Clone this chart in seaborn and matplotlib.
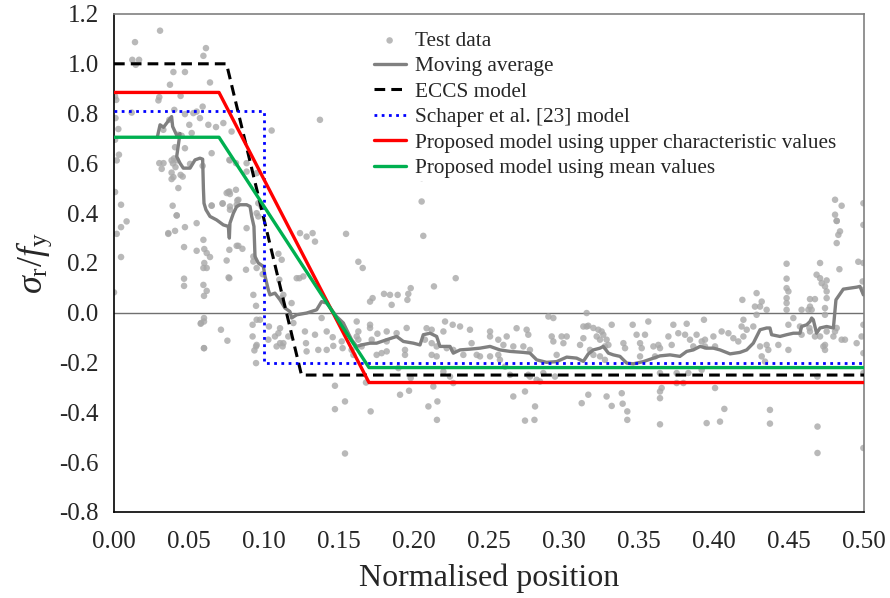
import matplotlib
matplotlib.use("Agg")
import matplotlib.pyplot as plt
import seaborn as sns
import pandas as pd
from matplotlib.ticker import FormatStrFormatter, MultipleLocator

# ---------------- data ----------------
TEST_X = [
    0.0307, 0.0140, 0.0122, 0.0167, 0.0145, 0.0613, 0.0596, 0.0396, 0.0473, 0.0640,
    0.0373, 0.0007, 0.0015, 0.0302, 0.0296, 0.0444, 0.0118, 0.0402, 0.0473, 0.0529,
    0.0551, 0.0591, 0.0010, 0.0502, 0.0573, 0.0369, 0.0629, 0.0680, 0.0729, 0.0029,
    0.0518, 0.0429, 0.0451, 0.0329, 0.0007, 0.0473, 0.0407, 0.0400, 0.0393, 0.0410,
    0.0651, 0.0773, 0.0033, 0.0302, 0.0330, 0.0507, 0.0591, 0.0018, 0.0384, 0.0418,
    0.0318, 0.0384, 0.0396, 0.0384, 0.0444, 0.0458, 0.0429, 0.0007, 0.0047, 0.0391,
    0.0418, 0.0418, 0.0084, 0.0047, 0.0018, 0.0362, 0.0407, 0.0473, 0.0551, 0.0467,
    0.0551, 0.0602, 0.0618, 0.0640, 0.0602, 0.0596, 0.0618, 0.0047, 0.0467, 0.0467,
    0.0596, 0.0618, 0.0600, 0.0000, 0.0751, 0.0769, 0.0764, 0.0762, 0.0773, 0.0813,
    0.0724, 0.0651, 0.0773, 0.0773, 0.0818, 0.0600, 0.0600, 0.0578, 0.0600, 0.0600,
    0.0713, 0.0756, 0.0829, 0.0818, 0.0884, 0.0951, 0.0984, 0.0962, 0.0962, 0.0829,
    0.0856, 0.0929, 0.0929, 0.0880, 0.0769, 0.0929, 0.0947, 0.0951, 0.0991, 0.1096,
    0.1118, 0.1102, 0.1129, 0.1118, 0.1218, 0.1184, 0.0951, 0.0973, 0.0924, 0.0924,
    0.0951, 0.0947, 0.0936, 0.1033, 0.1029, 0.1073, 0.1107, 0.1096, 0.1107, 0.1129,
    0.1084, 0.1124, 0.1162, 0.0947, 0.1051, 0.0784, 0.0769, 0.0813, 0.0769, 0.0884,
    0.0951, 0.0884, 0.0362, 0.0596, 0.0580, 0.0751, 0.0651, 0.0724, 0.0822, 0.1373,
    0.1240, 0.1284, 0.1324, 0.1340, 0.1547, 0.2051, 0.2062, 0.1629, 0.1658, 0.1236,
    0.1262, 0.2278, 0.2133, 0.1978, 0.1962, 0.1956, 0.1800, 0.1840, 0.1891, 0.1707,
    0.1724, 0.1851, 0.1196, 0.1273, 0.1340, 0.1384, 0.1418, 0.1458, 0.1280, 0.1284,
    0.1362, 0.1418, 0.1462, 0.1518, 0.1524, 0.1618, 0.1629, 0.1618, 0.1629, 0.1707,
    0.1707, 0.1718, 0.1756, 0.1818, 0.1818, 0.1884, 0.1951, 0.1751, 0.1784, 0.1818,
    0.1940, 0.1940, 0.1651, 0.1584, 0.1596, 0.1473, 0.1540, 0.1473, 0.1680, 0.1711,
    0.1907, 0.1967, 0.1978, 0.1896, 0.2084, 0.2118, 0.2118, 0.2073, 0.2151, 0.2196,
    0.2207, 0.2258, 0.2307, 0.2373, 0.2118, 0.2151, 0.2218, 0.2262, 0.2329, 0.2384,
    0.2418, 0.2440, 0.2196, 0.2240, 0.2262, 0.2129, 0.2096, 0.2156, 0.2153, 0.2507,
    0.2507, 0.2562, 0.2596, 0.2507, 0.2562, 0.2573, 0.2618, 0.2684, 0.2662, 0.2751,
    0.2762, 0.2729, 0.2773, 0.2607, 0.2640, 0.2662, 0.2740, 0.2762, 0.2773, 0.2807,
    0.2740, 0.2803, 0.2818, 0.2840, 0.2862, 0.2940, 0.2951, 0.3018, 0.2984, 0.2918,
    0.2929, 0.2996, 0.3107, 0.3129, 0.2896, 0.2929, 0.3118, 0.3162, 0.1540, 0.3151,
    0.3129, 0.3151, 0.3196, 0.3229, 0.3251, 0.3218, 0.3262, 0.3240, 0.3284, 0.3318,
    0.3273, 0.3296, 0.3173, 0.3196, 0.3240, 0.3273, 0.3162, 0.3284, 0.3318, 0.3385,
    0.3391, 0.3422, 0.3422, 0.3396, 0.3407, 0.3458, 0.3484, 0.3507, 0.3518, 0.3507,
    0.3540, 0.3562, 0.3596, 0.3629, 0.3640, 0.3607, 0.3640, 0.3651, 0.3640, 0.3640,
    0.3640, 0.3696, 0.3729, 0.3762, 0.3718, 0.3751, 0.3751, 0.3796, 0.3818, 0.3807,
    0.3840, 0.3862, 0.3884, 0.3918, 0.3940, 0.3940, 0.3996, 0.4007, 0.3933, 0.3829,
    0.3918, 0.4007, 0.4040, 0.4069, 0.4051, 0.4096, 0.4129, 0.4162, 0.4196, 0.4196,
    0.4184, 0.4218, 0.4262, 0.4284, 0.4189, 0.4284, 0.4307, 0.4273, 0.4318, 0.4351,
    0.4307, 0.4351, 0.4362, 0.4318, 0.4340, 0.4373, 0.4373, 0.4429, 0.4484, 0.4484,
    0.4484, 0.4496, 0.4484, 0.4484, 0.4484, 0.4496, 0.4496, 0.4529, 0.4584, 0.4573,
    0.4584, 0.4640, 0.4673, 0.4640, 0.4629, 0.4651, 0.4636, 0.4640, 0.4673, 0.4707,
    0.4684, 0.4707, 0.4751, 0.4718, 0.4740, 0.4751, 0.4751, 0.4740, 0.4740, 0.4707,
    0.4729, 0.4740, 0.4740, 0.4751, 0.4796, 0.4807, 0.4818, 0.4851, 0.4873, 0.4689,
    0.4690, 0.4690, 0.4807, 0.4851, 0.4807, 0.4818, 0.4818, 0.4840, 0.4829, 0.4818,
    0.4836, 0.4962, 0.4996, 0.4996, 0.4996, 0.4991, 0.4996, 0.4996, 0.4984, 0.4951,
    0.4996, 0.4996, 0.4996, 0.3951, 0.2051,
]
TEST_Y = [
    1.133, 1.087, 1.016, 1.016, 0.996, 1.063, 1.032, 0.967, 0.967, 0.925,
    0.916, 0.869, 0.855, 0.866, 0.853, 0.871, 0.804, 0.815, 0.798, 0.802,
    0.808, 0.828, 0.782, 0.755, 0.782, 0.775, 0.755, 0.746, 0.762, 0.738,
    0.722, 0.715, 0.711, 0.735, 0.695, 0.661, 0.665, 0.620, 0.600, 0.585,
    0.641, 0.612, 0.635, 0.601, 0.601, 0.598, 0.590, 0.612, 0.612, 0.612,
    0.578, 0.563, 0.545, 0.537, 0.554, 0.547, 0.501, 0.485, 0.434, 0.430,
    0.391, 0.391, 0.367, 0.344, 0.317, 0.317, 0.329, 0.344, 0.360, 0.264,
    0.249, 0.256, 0.240, 0.224, 0.200, 0.180, 0.180, 0.224, 0.137, 0.108,
    0.112, 0.088, 0.068, 0.082, 0.210, 0.253, 0.142, 0.485, 0.477, 0.494,
    0.440, 0.430, 0.427, 0.414, 0.269, -0.021, -0.035, -0.044, -0.142, -0.142,
    -0.068, -0.112, 0.454, 0.434, 0.340, 0.400, 0.427, 0.440, 0.387, 0.269,
    0.257, 0.226, 0.206, 0.173, 0.139, 0.072, 0.028, 0.180, 0.155, 0.237,
    0.213, 0.133, 0.072, 0.059, 0.139, 0.039, -0.028, -0.028, -0.048, -0.095,
    -0.129, -0.135, -0.151, -0.055, -0.108, -0.095, -0.062, -0.082, -0.122, -0.122,
    -0.135, -0.135, -0.095, -0.202, 0.732, 0.728, 0.614, 0.601, 0.487, 0.601,
    0.561, 0.567, 0.320, 0.293, -0.041, 0.481, 0.431, 0.438, 0.451, 0.775,
    0.320, 0.306, 0.320, 0.286, 0.317, 0.447, 0.309, 0.205, 0.180, 0.139,
    0.146, 0.139, 0.106, 0.099, 0.076, 0.052, 0.076, 0.072, 0.072, 0.045,
    0.059, 0.032, -0.041, -0.075, -0.088, -0.021, -0.075, -0.098, -0.122, -0.155,
    -0.149, -0.149, -0.133, -0.115, -0.142, -0.035, -0.075, -0.095, -0.108, -0.048,
    -0.061, -0.108, -0.084, -0.075, -0.115, -0.082, -0.061, -0.169, -0.162, -0.155,
    -0.149, -0.169, -0.135, -0.149, -0.169, -0.293, -0.356, -0.387, -0.280, -0.396,
    -0.329, -0.313, -0.262, -0.222, -0.062, -0.068, -0.122, -0.108, -0.135, -0.075,
    -0.035, -0.048, -0.055, -0.068, -0.169, -0.175, -0.142, -0.149, -0.169, -0.122,
    -0.169, -0.175, -0.236, -0.256, -0.282, -0.296, -0.376, -0.356, -0.430, -0.075,
    -0.095, -0.108, -0.129, -0.175, -0.169, -0.189, -0.095, -0.062, -0.135, -0.068,
    -0.088, -0.135, -0.149, -0.216, -0.249, -0.336, -0.316, -0.249, -0.256, -0.376,
    -0.433, -0.430, -0.269, -0.276, -0.242, -0.256, -0.169, -0.095, -0.095, -0.095,
    -0.115, -0.122, -0.129, -0.102, -0.015, -0.021, -0.363, -0.052, -0.565, -0.001,
    -0.055, -0.055, -0.061, -0.068, -0.075, -0.095, -0.088, -0.108, -0.108, -0.048,
    -0.135, -0.129, -0.149, -0.169, -0.175, -0.189, -0.329, -0.336, -0.374, -0.323,
    -0.365, -0.396, -0.430, -0.122, -0.142, -0.048, -0.088, -0.122, -0.142, -0.175,
    -0.088, -0.035, -0.135, -0.129, -0.142, -0.175, -0.242, -0.302, -0.316, -0.343,
    -0.448, -0.095, -0.048, -0.082, -0.129, -0.242, -0.282, -0.282, -0.044, -0.088,
    -0.108, -0.135, -0.088, -0.115, -0.135, -0.108, -0.095, -0.135, -0.028, -0.242,
    -0.229, -0.302, -0.437, -0.386, -0.075, -0.082, -0.102, -0.115, -0.095, -0.028,
    -0.055, -0.068, -0.055, -0.008, 0.052, 0.079, 0.025, 0.025, 0.045, 0.012,
    -0.135, -0.129, -0.149, -0.175, -0.196, -0.390, -0.445, -0.129, 0.197, 0.137,
    0.099, 0.086, 0.059, 0.039, 0.012, -0.048, -0.149, -0.021, 0.012, -0.055,
    -0.088, 0.055, 0.055, 0.025, 0.012, 0.012, -0.061, -0.075, -0.095, 0.200,
    0.153, 0.139, 0.130, 0.119, 0.106, 0.086, 0.059, 0.019, -0.008, -0.095,
    -0.135, -0.149, -0.129, -0.075, -0.095, -0.075, -0.061, -0.108, -0.108, -0.256,
    -0.457, -0.563, 0.454, 0.430, 0.394, 0.369, 0.369, 0.327, 0.313, 0.280,
    0.175, 0.205, 0.440, 0.353, 0.200, 0.126, 0.092, -0.048, -0.095, -0.122,
    -0.162, -0.242, -0.543, -0.443, 0.541,
]

MA_X = [
    0.0289, 0.0307, 0.0330, 0.0351, 0.0384, 0.0391, 0.0422, 0.0440, 0.0418, 0.0440,
    0.0462, 0.0507, 0.0540, 0.0573, 0.0591, 0.0596, 0.0600, 0.0613, 0.0640, 0.0684,
    0.0729, 0.0762, 0.0769, 0.0773, 0.0796, 0.0818, 0.0840, 0.0884, 0.0907, 0.0918,
    0.0933, 0.0940, 0.0962, 0.0996, 0.1007, 0.1029, 0.1040, 0.1073, 0.1107, 0.1140,
    0.1173, 0.1184, 0.1218, 0.1284, 0.1351, 0.1384, 0.1418, 0.1451, 0.1484, 0.1529,
    0.1562, 0.1584, 0.1618, 0.1651, 0.1707, 0.1751, 0.1818, 0.1884, 0.1929, 0.1996,
    0.2040, 0.2062, 0.2107, 0.2151, 0.2173, 0.2240, 0.2262, 0.2307, 0.2373, 0.2440,
    0.2507, 0.2573, 0.2640, 0.2729, 0.2773, 0.2818, 0.2884, 0.2951, 0.3018, 0.3084,
    0.3129, 0.3162, 0.3196, 0.3240, 0.3262, 0.3296, 0.3329, 0.3373, 0.3418, 0.3462,
    0.3529, 0.3596, 0.3640, 0.3707, 0.3773, 0.3818, 0.3862, 0.3907, 0.3951, 0.3996,
    0.4040, 0.4107, 0.4173, 0.4218, 0.4262, 0.4307, 0.4351, 0.4373, 0.4384, 0.4440,
    0.4484, 0.4529, 0.4573, 0.4584, 0.4618, 0.4640, 0.4651, 0.4662, 0.4684, 0.4707,
    0.4751, 0.4796, 0.4813, 0.4829, 0.4862, 0.4951, 0.4973, 0.4996,
]
MA_Y = [
    0.706, 0.755, 0.745, 0.762, 0.788, 0.748, 0.708, 0.720, 0.628, 0.601,
    0.581, 0.581, 0.614, 0.621, 0.617, 0.500, 0.440, 0.414, 0.387, 0.373,
    0.353, 0.347, 0.300, 0.360, 0.400, 0.427, 0.434, 0.434, 0.427, 0.387,
    0.347, 0.226, 0.200, 0.186, 0.146, 0.092, 0.072, 0.079, 0.052, 0.019,
    0.005, -0.021, -0.008, -0.001, 0.012, 0.045, 0.039, 0.012, -0.015, -0.041,
    -0.082, -0.108, -0.135, -0.129, -0.122, -0.122, -0.108, -0.095, -0.115, -0.122,
    -0.129, -0.088, -0.082, -0.095, -0.135, -0.135, -0.162, -0.149, -0.146, -0.142,
    -0.135, -0.149, -0.155, -0.159, -0.162, -0.189, -0.199, -0.196, -0.178, -0.182,
    -0.195, -0.165, -0.149, -0.142, -0.135, -0.162, -0.169, -0.175, -0.202, -0.205,
    -0.196, -0.182, -0.173, -0.169, -0.175, -0.155, -0.149, -0.135, -0.142, -0.142,
    -0.149, -0.165, -0.159, -0.149, -0.122, -0.068, -0.061, -0.061, -0.088, -0.095,
    -0.088, -0.082, -0.082, -0.055, -0.048, -0.035, -0.021, -0.028, -0.082, -0.061,
    -0.055, -0.061, 0.052, 0.066, 0.095, 0.103, 0.106, 0.072,
]

ECCS_X = [0.0, 0.075, 0.125, 0.5]
ECCS_Y = [1.0, 1.0, -0.25, -0.25]
SCHAPER_X = [0.0, 0.1, 0.1, 0.5]
SCHAPER_Y = [0.81, 0.81, -0.2, -0.2]
UPPER_X = [0.0, 0.07, 0.17, 0.5]
UPPER_Y = [0.885, 0.885, -0.28, -0.28]
MEAN_X = [0.0, 0.07, 0.17, 0.5]
MEAN_Y = [0.705, 0.705, -0.22, -0.22]

X_TICKS = [0.00, 0.05, 0.10, 0.15, 0.20, 0.25, 0.30, 0.35, 0.40, 0.45, 0.50]
Y_TICKS = [-0.8, -0.6, -0.4, -0.2, 0.0, 0.2, 0.4, 0.6, 0.8, 1.0, 1.2]

# ---------------- style ----------------
sns.set_style("white")
plt.rcParams["font.family"] = ["Liberation Serif", "DejaVu Serif"]
plt.rcParams["mathtext.fontset"] = "custom"
plt.rcParams["mathtext.rm"] = "Liberation Serif"
plt.rcParams["mathtext.it"] = "Liberation Serif:italic"
plt.rcParams["axes.unicode_minus"] = False

fig = plt.figure(figsize=(8.9, 5.98), dpi=100)
ax = fig.add_axes([114 / 890, 1 - 512 / 598, 750 / 890, 498 / 598])

ax.axhline(0, color="#707070", lw=1.0, zorder=1)

sns.scatterplot(x=TEST_X, y=TEST_Y, ax=ax, color="#a8a8a8", alpha=0.8,
                s=22, edgecolor="none", label="Test data", zorder=2)
sns.lineplot(x=MA_X, y=MA_Y, ax=ax, sort=False, estimator=None,
             color="#808080", lw=2.4, label="Moving average", zorder=3)
sns.lineplot(x=ECCS_X, y=ECCS_Y, ax=ax, sort=False, estimator=None,
             color="black", lw=2.2, dashes=(3.5, 2.0), label="ECCS model", zorder=4)
sns.lineplot(x=SCHAPER_X, y=SCHAPER_Y, ax=ax, sort=False, estimator=None,
             color="#0000ff", lw=2.0, dashes=(1.0, 1.6), label="Schaper et al. [23] model", zorder=4)
sns.lineplot(x=UPPER_X, y=UPPER_Y, ax=ax, sort=False, estimator=None,
             color="#ff0000", lw=2.4, label="Proposed model using upper characteristic values", zorder=5)
sns.lineplot(x=MEAN_X, y=MEAN_Y, ax=ax, sort=False, estimator=None,
             color="#00b050", lw=2.4, label="Proposed model using mean values", zorder=5)

ax.set_xlim(0, 0.5)
ax.set_ylim(-0.8, 1.2)
ax.set_xticks(X_TICKS)
ax.set_yticks(Y_TICKS)
ax.xaxis.set_major_formatter(FormatStrFormatter("%.2f"))
ax.yaxis.set_major_formatter(FormatStrFormatter("%.1f"))
ax.tick_params(axis="both", direction="out", length=6, width=1.0, color="black",
               labelsize=18, pad=5)
ax.tick_params(axis="x", pad=8)

for side in ["left", "bottom"]:
    ax.spines[side].set_color("black")
    ax.spines[side].set_linewidth(1.2)
for side in ["top", "right"]:
    ax.spines[side].set_color("#808080")
    ax.spines[side].set_linewidth(1.2)
    ax.spines[side].set_visible(True)

ax.set_xlabel("Normalised position", fontsize=23, labelpad=7)
ax.set_ylabel(r"$\sigma_{\mathrm{r}}/f_{\mathrm{y}}$", fontsize=26, labelpad=4)

leg = ax.legend(loc="upper left", bbox_to_anchor=(0.342, 0.972), fontsize=15.3,
                frameon=True, facecolor="white", edgecolor="none", framealpha=1,
                borderpad=0.15, labelspacing=0.26, handlelength=1.5,
                handletextpad=0.45, borderaxespad=0, fancybox=False)
leg.set_zorder(6)

fig.savefig("out.png", dpi=100)
